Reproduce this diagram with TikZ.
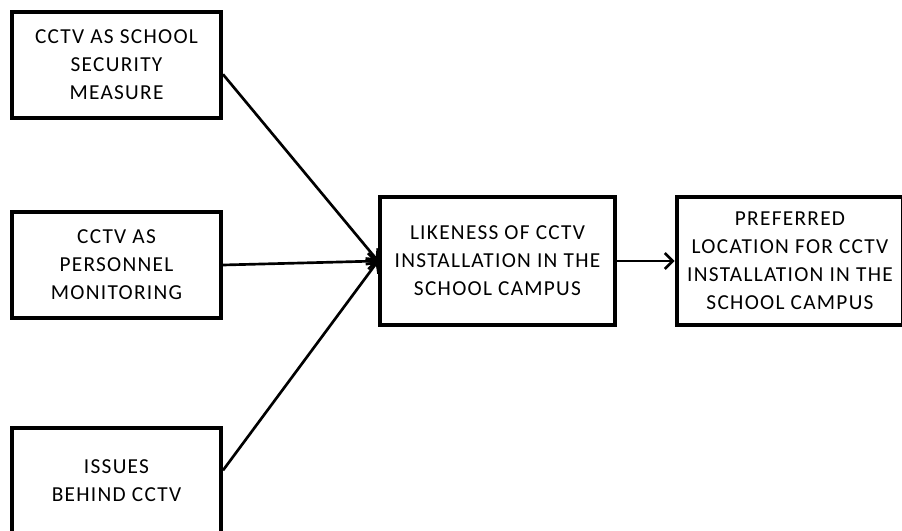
\documentclass[tikz,border=0pt]{standalone}
\usepackage{fontspec}
\setmainfont{Carlito}[LetterSpace=6]
\usetikzlibrary{arrows.meta}
\begin{document}
\begin{tikzpicture}[x=0.75pt,y=-0.75pt,
    every node/.style={font=\fontsize{16}{21}\selectfont},
    box/.style={draw,line width=3pt,align=center,inner sep=0pt},
    link/.style={line width=2pt,-{Straight Barb[length=6pt,width=12pt]}}]
  \useasboundingbox (0,0) rectangle (902,531);
  % left column
  \foreach \name/\y/\txt in {sec/65/{CCTV AS SCHOOL\\SECURITY\\MEASURE},
                             mon/265/{CCTV AS\\PERSONNEL\\MONITORING},
                             iss/481/{ISSUES\\BEHIND CCTV}} {
    \node[box,minimum width=156.75pt,minimum height=79.5pt] (\name) at (116.5,\y) {\txt};
  }
  \node[box,minimum width=176.25pt,minimum height=96pt] (like) at (497.5,261)
    {LIKENESS OF CCTV\\INSTALLATION IN THE\\SCHOOL CAMPUS};
  \node[box,minimum width=170pt,minimum height=96pt] (loc) at (790,261)
    {PREFERRED\\LOCATION FOR CCTV\\INSTALLATION IN THE\\SCHOOL CAMPUS};
  \foreach \src/\dy in {sec/-7pt,mon/0pt,iss/8pt} {
    \draw[link] ([yshift=\dy]\src.east) -- (like.west);
  }
  \draw[link] (like.east) -- (loc.west);
\end{tikzpicture}
\end{document}
